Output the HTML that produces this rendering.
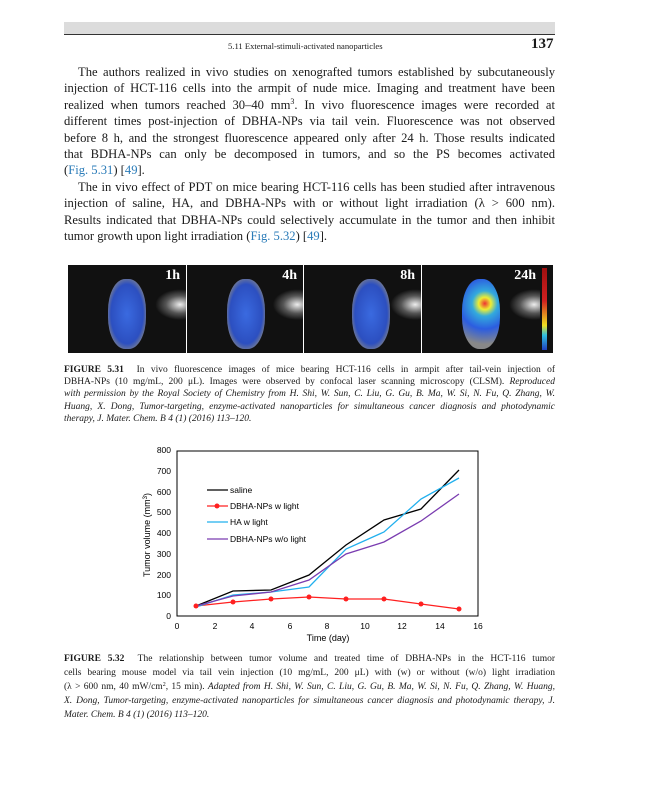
<!DOCTYPE html>
<html><head><meta charset="utf-8"><style>
body{margin:0;width:648px;height:800px;background:#fff;position:relative;overflow:hidden;font-family:"Liberation Serif",serif;color:#1a1a1a}
.a{position:absolute}
.p{position:absolute;left:64px;width:491px;font-size:12.6px;line-height:16.4px;text-align:justify}
.p div{height:16.4px;text-align:justify;text-align-last:justify;white-space:nowrap}
.p sup{font-size:8px;line-height:0;vertical-align:5px}
.cap{position:absolute;left:64px;width:491px;font-size:9.5px;text-align:justify}
.cap div{text-align:justify;text-align-last:justify;white-space:nowrap}
.cap div.l{text-align-last:left}
.cap sup{line-height:0;vertical-align:3px}
.b{color:#2a7bb8}
.panel{position:absolute;top:265px;height:88px;background:radial-gradient(ellipse 30% 25% at 95% 45%,#eee,#555 40%,#111 70%),#111}
.mouse{position:absolute;width:38px;height:70px;left:40px;top:14px;border-radius:45%;background:radial-gradient(ellipse at 50% 50%,#3a6ae0,#2c4fc0 60%,#888 80%)}
.lab{position:absolute;top:3px;right:6px;color:#fff;font-weight:bold;font-size:14px}
</style></head><body>
<div class="a" style="left:64px;top:22px;width:491px;height:12px;background:#dcdcdc;border-bottom:1.5px solid #333"></div>
<div class="a" style="left:228px;top:41px;font-size:8.6px">5.11 External-stimuli-activated nanoparticles</div>
<div class="a" style="left:531px;top:36px;font-size:15px;font-weight:bold">137</div>
<div class="p" style="top:64px">
<div style="padding-left:14px">The authors realized in vivo studies on xenografted tumors established by subcutaneously</div>
<div>injection of HCT-116 cells into the armpit of nude mice. Imaging and treatment have been</div>
<div>realized when tumors reached 30–40 mm<sup>3</sup>. In vivo fluorescence images were recorded at</div>
<div>different times post-injection of DBHA-NPs via tail vein. Fluorescence was not observed</div>
<div>before 8 h, and the strongest fluorescence appeared only after 24 h. Those results indicated</div>
<div>that BDHA-NPs can only be decomposed in tumors, and so the PS becomes activated</div>
<div style="text-align-last:left">(<span class="b">Fig. 5.31</span>) [<span class="b">49</span>].</div>
<div style="padding-left:14px">The in vivo effect of PDT on mice bearing HCT-116 cells has been studied after intravenous</div>
<div>injection of saline, HA, and DBHA-NPs with or without light irradiation (λ &gt; 600 nm).</div>
<div>Results indicated that DBHA-NPs could selectively accumulate in the tumor and then inhibit</div>
<div style="text-align-last:left">tumor growth upon light irradiation (<span class="b">Fig. 5.32</span>) [<span class="b">49</span>].</div>
</div>
<div class="panel" style="left:68px;width:118px"><div class="mouse"></div><div class="lab">1h</div></div>
<div class="panel" style="left:187px;width:116px"><div class="mouse"></div><div class="lab">4h</div></div>
<div class="panel" style="left:304px;width:117px"><div class="mouse" style="left:48px"></div><div class="lab">8h</div></div>
<div class="panel" style="left:422px;width:118px"><div class="mouse" style="background:radial-gradient(circle at 60% 35%,#e33,#ee3 12%,#3ad 25%,#2c5de0 50%,#888 80%)"></div><div class="lab" style="right:4px">24h</div></div>
<div class="a" style="left:540px;top:265px;width:13px;height:88px;background:#111"></div>
<div class="a" style="left:542px;top:268px;width:5px;height:82px;background:linear-gradient(#a01010,#d02020 40%,#f0e020 70%,#30c0e0 82%,#2040c0)"></div>
<div class="cap" style="top:364px;line-height:12.2px">
<div><b>FIGURE 5.31</b>&nbsp; In vivo fluorescence images of mice bearing HCT-116 cells in armpit after tail-vein injection of</div>
<div>DBHA-NPs (10 mg/mL, 200 μL). Images were observed by confocal laser scanning microscopy (CLSM). <i>Reproduced</i></div>
<div><i>with permission by the Royal Society of Chemistry from H. Shi, W. Sun, C. Liu, G. Gu, B. Ma, W. Si, N. Fu, Q. Zhang, W.</i></div>
<div><i>Huang, X. Dong, Tumor-targeting, enzyme-activated nanoparticles for simultaneous cancer diagnosis and photodynamic</i></div>
<div class="l"><i>therapy, J. Mater. Chem. B 4 (1) (2016) 113–120.</i></div>
</div>
<svg class="a" style="left:130px;top:440px" width="370" height="210" viewBox="130 440 370 210" font-family="Liberation Sans,sans-serif" font-size="8.5">
<rect x="177" y="451" width="301" height="165" fill="none" stroke="#000" stroke-width="1"/>
<g text-anchor="end">
<text x="171" y="619">0</text><text x="171" y="598">100</text><text x="171" y="578">200</text><text x="171" y="557">300</text><text x="171" y="536">400</text><text x="171" y="515">500</text><text x="171" y="495">600</text><text x="171" y="474">700</text><text x="171" y="453">800</text>
</g>
<g text-anchor="middle">
<text x="177" y="629">0</text><text x="215" y="629">2</text><text x="252" y="629">4</text><text x="290" y="629">6</text><text x="327" y="629">8</text><text x="365" y="629">10</text><text x="402" y="629">12</text><text x="440" y="629">14</text><text x="478" y="629">16</text>
<text x="328" y="641" font-size="9">Time (day)</text>
</g>
<text transform="translate(150,535) rotate(-90)" text-anchor="middle" font-size="9">Tumor volume (mm<tspan dy="-3" font-size="6">3</tspan><tspan dy="3">)</tspan></text>
<g fill="none" stroke-width="1.3">
<polyline stroke="#000" points="196,606 233,591 271,590 309,575 346,545 384,520 421,509 459,470"/>
<polyline stroke="#ff2020" points="196,606 233,602 271,599 309,597 346,599 384,599 421,604 459,609"/>
<polyline stroke="#22b0ee" points="196,607 233,595 271,592 309,587 346,549 384,532 421,499 459,478"/>
<polyline stroke="#7a3cb0" points="196,606 233,596 271,592 309,580 346,554 384,542 421,521 459,494"/>
</g>
<g fill="#ff2020"><circle cx="196" cy="606" r="2.5"/><circle cx="233" cy="602" r="2.5"/><circle cx="271" cy="599" r="2.5"/><circle cx="309" cy="597" r="2.5"/><circle cx="346" cy="599" r="2.5"/><circle cx="384" cy="599" r="2.5"/><circle cx="421" cy="604" r="2.5"/><circle cx="459" cy="609" r="2.5"/><circle cx="217" cy="506" r="2.5"/></g>
<line x1="207" y1="490" x2="228" y2="490" stroke="#000" stroke-width="1.3"/>
<line x1="207" y1="506" x2="228" y2="506" stroke="#ff2020" stroke-width="1.3"/>
<line x1="207" y1="522" x2="228" y2="522" stroke="#22b0ee" stroke-width="1.3"/>
<line x1="207" y1="539" x2="228" y2="539" stroke="#7a3cb0" stroke-width="1.3"/>
<g font-size="8.5"><text x="230" y="493">saline</text><text x="230" y="509">DBHA-NPs w light</text><text x="230" y="525">HA w light</text><text x="230" y="542">DBHA-NPs w/o light</text></g>
</svg>
<div class="cap" style="top:652px;line-height:14px">
<div><b>FIGURE 5.32</b>&nbsp; The relationship between tumor volume and treated time of DBHA-NPs in the HCT-116 tumor</div>
<div>cells bearing mouse model via tail vein injection (10 mg/mL, 200 μL) with (w) or without (w/o) light irradiation</div>
<div>(λ &gt; 600 nm, 40 mW/cm<sup style="font-size:6px">2</sup>, 15 min). <i>Adapted from H. Shi, W. Sun, C. Liu, G. Gu, B. Ma, W. Si, N. Fu, Q. Zhang, W. Huang,</i></div>
<div><i>X. Dong, Tumor-targeting, enzyme-activated nanoparticles for simultaneous cancer diagnosis and photodynamic therapy, J.</i></div>
<div class="l"><i>Mater. Chem. B 4 (1) (2016) 113–120.</i></div>
</div>
</body></html>
